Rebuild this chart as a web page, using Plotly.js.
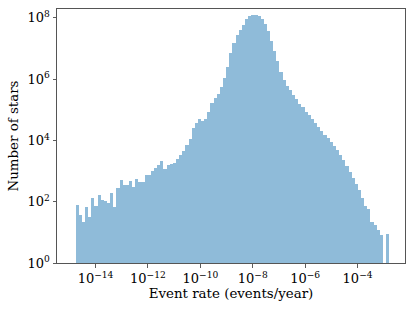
<!DOCTYPE html>
<html>
<head>
<meta charset="utf-8">
<script src="https://cdn.plot.ly/plotly-3.0.1.min.js"></script>
<style>html,body{margin:0;padding:0;background:#fff;}#chart{width:415px;height:311px;}</style>
</head>
<body>
<div id="chart"></div>
<script>
// Histogram of event rates (log-spaced bins), counts per bin
const logBinMin = -14.76;   // log10 of first bin edge
const logBinMax = -2.79;    // log10 of last bin edge
const counts = [
  78, 36, 21, 66, 32, 129, 72, 162, 112, 102,
  91, 191, 65, 282, 501, 339, 347, 468, 309, 537,
  427, 437, 741, 724, 1000, 1259, 1549, 2089, 1202, 1622,
  1738, 1820, 2512, 3388, 4571, 7079, 11220, 25119, 36308, 48978,
  41687, 50119, 87096, 165959, 239883, 331131, 537032, 1096478, 2511886, 7079458,
  15135612, 26915348, 41686938, 60255959, 89125094, 112201845, 128824955, 128824955, 112201845, 93325430,
  63095734, 36307805, 16982437, 8128305, 3801894, 1778279, 954993, 602560, 446684, 301995,
  223872, 154882, 123027, 85114, 66069, 48978, 36308, 26915, 20417, 15488,
  11749, 8710, 6607, 4786, 3467, 2291, 1514, 933, 603, 389,
  245, 129, 72, 59, 22, 18, 12, 8, 0, 9
];
const xTickVals = [1e-14, 1e-12, 1e-10, 1e-8, 1e-6, 1e-4];
const xTickText = ['10<sup>−14</sup>', '10<sup>−12</sup>', '10<sup>−10</sup>', '10<sup>−8</sup>', '10<sup>−6</sup>', '10<sup>−4</sup>'];
const yTickVals = [1, 1e2, 1e4, 1e6, 1e8];
const yTickText = ['10<sup>0</sup>', '10<sup>2</sup>', '10<sup>4</sup>', '10<sup>6</sup>', '10<sup>8</sup>'];

const n = counts.length;
const step = (logBinMax - logBinMin) / n;
const centers = [], widths = [], ys = [];
for (let i = 0; i < n; i++) {
  const L = Math.pow(10, logBinMin + i * step);
  const R = Math.pow(10, logBinMin + (i + 1) * step);
  centers.push((L + R) / 2);
  widths.push(R - L);
  ys.push(counts[i] > 0 ? counts[i] : null);
}

const font = {family: 'DejaVu Serif', size: 13, color: '#000'};
const titleFont = {family: 'DejaVu Serif', size: 13.4, color: '#000'};
const trace = {
  type: 'bar', x: centers, y: ys, width: widths,
  marker: {color: 'rgba(31,119,180,0.5)', line: {width: 0}},
  hoverinfo: 'skip'
};
const axisCommon = {
  showgrid: false, zeroline: false, showline: true, mirror: true,
  linecolor: '#555', linewidth: 1, ticks: 'outside', ticklen: 3.5, tickwidth: 0.8, tickcolor: '#333',
  tickfont: font
};
const layout = {
  width: 415, height: 311,
  margin: {l: 57, r: 10, t: 9, b: 48},
  paper_bgcolor: '#fff', plot_bgcolor: '#fff',
  showlegend: false, bargap: 0,
  font: font,
  xaxis: Object.assign({}, axisCommon, {
    type: 'log', range: [-15.47, -2.19],
    tickmode: 'array', tickvals: xTickVals, ticktext: xTickText,
    title: {text: 'Event rate (events/year)', font: titleFont, standoff: 3}
  }),
  yaxis: Object.assign({}, axisCommon, {
    type: 'log', range: [0, 8.29],
    tickmode: 'array', tickvals: yTickVals, ticktext: yTickText,
    title: {text: 'Number of stars', font: titleFont, standoff: 5}
  })
};
Plotly.newPlot('chart', [trace], layout, {staticPlot: true, displayModeBar: false});
</script>
</body>
</html>
